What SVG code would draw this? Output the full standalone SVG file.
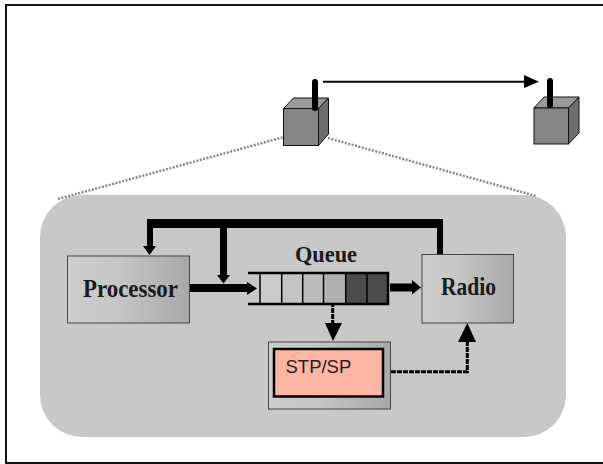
<svg xmlns="http://www.w3.org/2000/svg" width="603" height="464" viewBox="0 0 603 464">
<style>
.box{stroke:#444;stroke-width:1}
.cube{stroke:#111;stroke-width:1}
.lbl{font-family:"Liberation Serif",serif;font-weight:bold;fill:#1a1a1a}
.thick{fill:none;stroke:#000}
.dash{fill:none;stroke:#000;stroke-width:3;stroke-dasharray:5 1}
.dot{fill:none;stroke:#888;stroke-width:2.500;stroke-dasharray:2 1.500}
.cell{fill:none;stroke:#000;stroke-width:1.500}
</style>
<defs>
<linearGradient id="g"><stop offset="0" stop-color="#cdcdcd"/><stop offset="0.4" stop-color="#c6c6c6"/><stop offset="1" stop-color="#a8a8a8"/></linearGradient>
</defs>
<rect x="0" y="0" width="603" height="464" fill="#fff"/>
<path d="M6 464V5H603M6 463H603" fill="none" stroke="#111" stroke-width="2"/>
<rect id="panel" x="40" y="195" width="526" height="242" rx="42" ry="42" fill="#c8c8c8"/>
<g id="connectors">
<path class="dot" d="M58 199L284 137"/>
<path class="dot" d="M328 138L536 196"/>
<path d="M323 81.700H526" fill="none" stroke="#000" stroke-width="2"/>
<path d="M524 75L539 81.700L524 88Z" fill="#000"/>
<path class="thick" stroke-width="9" d="M147 223.500H443"/>
<path class="thick" stroke-width="6" d="M440 223V255"/>
<path class="thick" stroke-width="6" d="M150 219V247"/>
<path d="M143 246H156L149.500 255Z" fill="#000"/>
<path class="thick" stroke-width="7" d="M223.500 223V276"/>
<path d="M217 275H230L223.500 283.500Z" fill="#000"/>
<path class="thick" stroke-width="8" d="M190 288H248"/>
<path d="M247 282L257 288.500L247 295Z" fill="#000"/>
<path class="thick" stroke-width="8" d="M390 287.500H413"/>
<path d="M412 280L421 287.500L412 294.500Z" fill="#000"/>
<path class="dash" d="M332.700 302V325"/>
<path d="M325 323H342L333 341Z" fill="#000"/>
<path class="dash" d="M391 371.700H467.300V340"/>
<path d="M458 342L467.300 323L476 342Z" fill="#000"/>
</g>
<g id="node-a">
<path class="cube" d="M283.500 108.500L293.500 98H328.500L318.500 108.500Z" fill="#9a9a9a"/>
<path class="cube" d="M318.500 108.500L328.500 98V134L318.500 145.500Z" fill="#6e6e6e"/>
<rect class="cube" x="283.500" y="108.500" width="35" height="37" fill="#858585"/>
<path d="M315 82V108" stroke="#000" stroke-width="6" stroke-linecap="round"/>
</g>
<g id="node-b">
<path class="cube" d="M534 108L544 97H579L568.500 108Z" fill="#9a9a9a"/>
<path class="cube" d="M568.500 108L579 97V133L568.500 144Z" fill="#6e6e6e"/>
<rect class="cube" x="534" y="108" width="34.500" height="36" fill="#858585"/>
<path d="M550 81V105" stroke="#000" stroke-width="6" stroke-linecap="round"/>
</g>
<g id="processor">
<rect class="box" x="67.500" y="256" width="122" height="67" fill="url(#g)"/>
<text class="lbl" x="130.500" y="297" font-size="25" text-anchor="middle" textLength="95" lengthAdjust="spacingAndGlyphs">Processor</text>
</g>
<g id="queue">
<text class="lbl" x="326" y="262" font-size="24" text-anchor="middle" textLength="62" lengthAdjust="spacingAndGlyphs">Queue</text>
<rect x="260" y="273" width="21" height="31" fill="#cbcbcb"/>
<rect x="281" y="273" width="21" height="31" fill="#c4c4c4"/>
<rect x="302" y="273" width="21" height="31" fill="#bcbcbc"/>
<rect x="323" y="273" width="22" height="31" fill="#b0b0b0"/>
<rect x="345" y="273" width="43" height="31" fill="#4c4c4c"/>
<path d="M248 273H388V304H248" fill="none" stroke="#000" stroke-width="2.500"/>
<path class="cell" d="M260 273V304M281.700 273V304M302.700 273V304M323.500 273V304M345.700 273V304M367 273V304"/>
</g>
<g id="radio">
<rect class="box" x="422" y="254.500" width="91.500" height="68.500" fill="url(#g)"/>
<text class="lbl" x="468.500" y="295" font-size="25" text-anchor="middle" textLength="55" lengthAdjust="spacingAndGlyphs">Radio</text>
</g>
<g id="stp-sp">
<rect class="box" x="268.500" y="342" width="122" height="67" fill="url(#g)"/>
<rect x="274" y="349" width="109" height="47.500" fill="#fdb5a4" stroke="#000" stroke-width="2.500"/>
<text x="285.500" y="373" font-size="18.500" font-family="Liberation Sans, Arial, sans-serif" fill="#222">STP/SP</text>
</g>
</svg>
